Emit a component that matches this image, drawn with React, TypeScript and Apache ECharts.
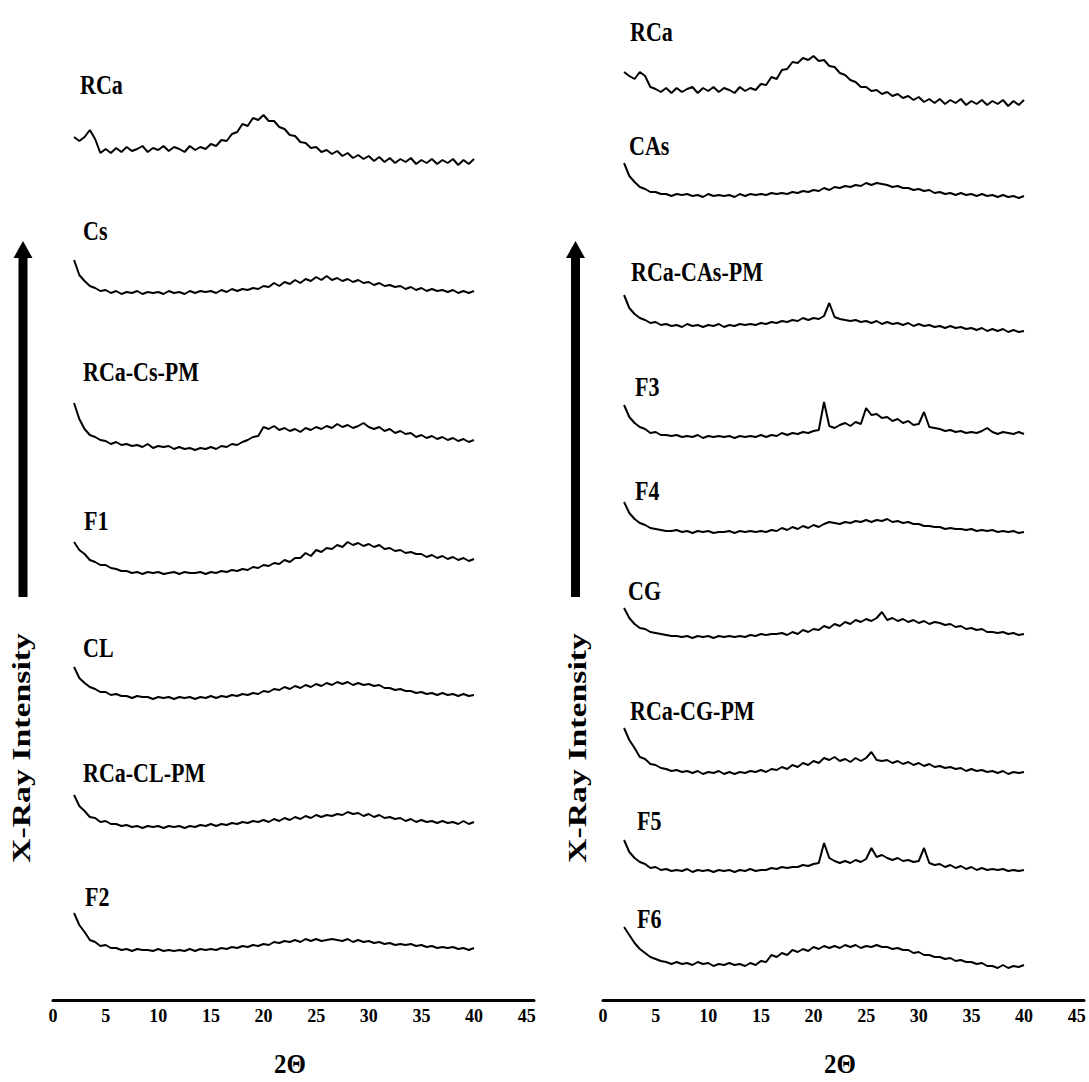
import React, { useEffect, useRef } from "react";
import * as echarts from "echarts";

// 2θ sampling positions (degrees)
const THETA = [
  2, 2.5, 3, 3.5, 4, 4.5, 5, 5.5, 6, 6.5,
  7, 7.5, 8, 8.5, 9, 9.5, 10, 10.5, 11, 11.5,
  12, 12.5, 13, 13.5, 14, 14.5, 15, 15.5, 16, 16.5,
  17, 17.5, 18, 18.5, 19, 19.5, 20, 20.5, 21, 21.5,
  22, 22.5, 23, 23.5, 24, 24.5, 25, 25.5, 26, 26.5,
  27, 27.5, 28, 28.5, 29, 29.5, 30, 30.5, 31, 31.5,
  32, 32.5, 33, 33.5, 34, 34.5, 35, 35.5, 36, 36.5,
  37, 37.5, 38, 38.5, 39, 39.5, 40,
];

const X_TICKS = [0, 5, 10, 15, 20, 25, 30, 35, 40, 45];

// ---------- Left panel (intensity above each trace's own baseline, a.u.) ----------
const L_RCa = [
  31, 27, 31, 38, 29, 15, 19, 15, 20, 16,
  21, 17, 19, 22, 16, 20, 18, 22, 17, 21,
  19, 16, 22, 18, 21, 19, 24, 22, 28, 27,
  34, 36, 44, 42, 50, 48, 53, 47, 47, 41,
  39, 33, 32, 26, 25, 20, 21, 16, 18, 14,
  17, 12, 15, 10, 13, 9, 12, 7, 11, 6,
  10, 5, 9, 6, 10, 4, 8, 5, 9, 4,
  8, 5, 9, 3, 8, 4, 9,
];
const L_Cs = [
  37, 22, 16, 11, 9, 6, 7, 4, 6, 3,
  5, 4, 6, 3, 5, 4, 5, 3, 6, 4,
  5, 3, 6, 4, 6, 5, 6, 4, 7, 5,
  8, 6, 8, 7, 9, 8, 11, 10, 14, 11,
  15, 13, 17, 14, 18, 16, 20, 17, 21, 17,
  19, 16, 18, 15, 17, 14, 15, 12, 14, 11,
  12, 10, 11, 8, 10, 7, 9, 6, 8, 6,
  7, 5, 7, 4, 6, 4, 6,
];
const L_RCa_Cs_PM = [
  49, 33, 23, 17, 15, 12, 11, 8, 10, 7,
  8, 6, 7, 5, 8, 4, 6, 5, 6, 3,
  5, 3, 4, 2, 4, 3, 5, 3, 6, 5,
  8, 7, 10, 12, 15, 16, 25, 23, 26, 22,
  24, 21, 23, 20, 24, 22, 25, 23, 26, 24,
  28, 25, 27, 24, 26, 29, 25, 23, 25, 21,
  23, 19, 21, 18, 19, 15, 17, 14, 16, 13,
  15, 12, 14, 11, 13, 10, 12,
];
const L_F1 = [
  33, 25, 21, 15, 13, 10, 10, 7, 6, 4,
  4, 2, 3, 1, 3, 2, 3, 1, 2, 3,
  1, 3, 2, 2, 3, 1, 3, 2, 4, 3,
  5, 4, 6, 5, 8, 7, 10, 9, 12, 11,
  15, 13, 17, 17, 22, 19, 25, 23, 27, 26,
  30, 28, 33, 30, 32, 29, 31, 28, 30, 26,
  27, 24, 25, 22, 23, 21, 21, 18, 20, 17,
  19, 16, 18, 15, 17, 14, 16,
];
const L_CL = [
  33, 22, 17, 13, 11, 8, 8, 5, 6, 4,
  4, 2, 4, 3, 3, 1, 3, 2, 3, 1,
  3, 2, 3, 1, 3, 2, 4, 2, 4, 3,
  5, 4, 6, 5, 7, 6, 9, 8, 11, 10,
  13, 11, 14, 12, 15, 13, 16, 14, 17, 15,
  18, 16, 18, 15, 17, 15, 16, 14, 15, 12,
  12, 10, 11, 9, 9, 7, 8, 6, 7, 5,
  7, 5, 6, 4, 6, 4, 5,
];
const L_RCa_CL_PM = [
  33, 22, 17, 11, 10, 6, 7, 4, 4, 2,
  3, 1, 2, 0, 2, 1, 2, 0, 2, 1,
  2, 0, 2, 1, 3, 2, 4, 2, 4, 3,
  5, 4, 6, 5, 7, 6, 8, 6, 9, 7,
  10, 8, 11, 9, 12, 10, 13, 11, 13, 12,
  14, 13, 16, 14, 15, 12, 14, 11, 13, 10,
  11, 9, 10, 7, 9, 6, 8, 6, 7, 5,
  7, 5, 6, 4, 7, 4, 6,
];
const L_F2 = [
  39, 27, 20, 12, 10, 6, 7, 4, 4, 2,
  3, 1, 3, 2, 2, 1, 3, 1, 2, 1,
  2, 1, 3, 1, 3, 2, 3, 2, 4, 3,
  5, 4, 6, 5, 7, 6, 8, 7, 10, 9,
  11, 10, 12, 10, 13, 11, 13, 11, 12, 13,
  12, 11, 13, 10, 12, 10, 11, 9, 10, 8,
  9, 7, 8, 7, 8, 6, 7, 5, 6, 4,
  5, 4, 5, 3, 4, 2, 4,
];

// ---------- Right panel ----------
const R_RCa = [
  34, 30, 27, 34, 30, 19, 17, 14, 18, 13,
  18, 14, 17, 19, 13, 18, 15, 19, 14, 18,
  16, 13, 19, 15, 18, 16, 22, 21, 29, 27,
  36, 37, 44, 43, 48, 46, 50, 45, 46, 40,
  39, 33, 31, 26, 24, 19, 19, 15, 16, 12,
  14, 10, 12, 8, 10, 6, 9, 4, 7, 3,
  7, 2, 6, 3, 7, 1, 5, 2, 6, 1,
  5, 2, 6, 0, 5, 1, 6,
];
const R_CAs = [
  35, 22, 16, 11, 9, 6, 6, 4, 4, 2,
  4, 3, 4, 2, 3, 1, 4, 2, 3, 2,
  3, 1, 4, 2, 4, 3, 4, 3, 5, 4,
  5, 4, 6, 5, 7, 6, 8, 7, 10, 8,
  11, 10, 12, 11, 13, 12, 15, 13, 15, 14,
  13, 11, 12, 10, 10, 8, 9, 7, 8, 5,
  6, 4, 5, 3, 5, 3, 4, 2, 4, 2,
  3, 1, 3, 1, 2, 0, 2,
];
const R_RCa_CAs_PM = [
  38, 25, 19, 15, 13, 10, 11, 8, 9, 7,
  8, 6, 9, 7, 8, 6, 8, 7, 9, 6,
  8, 7, 9, 8, 9, 8, 10, 9, 11, 10,
  12, 11, 13, 12, 15, 13, 15, 14, 17, 30,
  16, 14, 13, 12, 13, 11, 12, 10, 12, 9,
  11, 9, 10, 8, 10, 7, 9, 7, 8, 6,
  7, 5, 7, 5, 6, 4, 5, 3, 5, 2,
  4, 2, 4, 1, 3, 1, 2,
];
const R_F3 = [
  33, 21, 15, 11, 9, 5, 6, 3, 3, 2,
  3, 1, 2, 1, 3, 0, 2, 1, 2, 1,
  2, 0, 2, 1, 2, 1, 3, 1, 3, 2,
  5, 3, 5, 4, 6, 5, 7, 8, 36, 12,
  10, 13, 15, 12, 16, 14, 30, 23, 24, 20,
  21, 17, 19, 15, 17, 13, 14, 26, 11, 10,
  9, 7, 8, 6, 7, 5, 6, 5, 7, 10,
  6, 4, 6, 5, 4, 6, 4,
];
const R_F4 = [
  32, 21, 15, 11, 9, 6, 5, 4, 3, 3,
  4, 2, 3, 1, 3, 2, 3, 1, 2, 2,
  3, 1, 3, 2, 3, 2, 3, 2, 4, 3,
  6, 4, 7, 5, 8, 6, 9, 7, 10, 12,
  11, 10, 12, 11, 13, 12, 14, 12, 14, 13,
  15, 12, 13, 11, 12, 10, 10, 8, 8, 7,
  7, 5, 6, 5, 5, 4, 5, 3, 4, 3,
  4, 2, 3, 2, 3, 1, 2,
];
const R_CG = [
  30, 20, 14, 10, 9, 6, 5, 4, 3, 2,
  2, 1, 2, 0, 2, 1, 2, 0, 2, 1,
  2, 1, 2, 1, 3, 2, 4, 3, 4, 4,
  5, 3, 6, 4, 8, 6, 9, 8, 12, 10,
  14, 12, 16, 14, 18, 16, 19, 17, 20, 26,
  18, 20, 17, 19, 16, 18, 15, 17, 14, 16,
  15, 13, 14, 11, 12, 9, 10, 8, 9, 6,
  6, 5, 6, 4, 5, 3, 4,
];
const R_RCa_CG_PM = [
  47, 35, 27, 18, 16, 11, 10, 7, 6, 4,
  5, 3, 4, 2, 4, 1, 3, 2, 4, 1,
  3, 1, 3, 2, 4, 3, 5, 3, 6, 5,
  8, 6, 10, 8, 12, 10, 14, 12, 17, 15,
  18, 14, 16, 13, 17, 14, 17, 23, 15, 14,
  15, 12, 14, 11, 13, 10, 12, 9, 11, 8,
  9, 7, 8, 6, 7, 4, 6, 4, 5, 3,
  4, 2, 4, 1, 3, 2, 3,
];
const R_F5 = [
  33, 21, 15, 11, 9, 5, 6, 3, 4, 2,
  3, 2, 4, 1, 3, 2, 3, 1, 3, 2,
  3, 1, 3, 2, 4, 2, 3, 3, 5, 4,
  6, 5, 6, 6, 8, 7, 9, 10, 30, 15,
  12, 10, 12, 10, 13, 11, 14, 25, 16, 18,
  15, 13, 15, 12, 13, 11, 12, 25, 10, 8,
  9, 6, 8, 5, 7, 4, 6, 3, 5, 3,
  4, 3, 4, 2, 3, 2, 3,
];
const R_F6 = [
  41, 33, 25, 19, 15, 11, 9, 7, 6, 4,
  6, 4, 5, 3, 6, 4, 5, 2, 4, 3,
  5, 3, 4, 2, 5, 3, 7, 6, 13, 11,
  15, 13, 18, 16, 19, 17, 21, 19, 22, 20,
  22, 20, 23, 21, 23, 20, 22, 21, 23, 21,
  21, 19, 20, 18, 18, 15, 16, 13, 13, 11,
  11, 9, 10, 7, 8, 6, 6, 4, 5, 2,
  2, 0, 3, 0, 2, 1, 3,
];

const LEFT_NAMES = ["RCa", "Cs", "RCa-Cs-PM", "F1", "CL", "RCa-CL-PM", "F2"];
const LEFT_SERIES = [L_RCa, L_Cs, L_RCa_Cs_PM, L_F1, L_CL, L_RCa_CL_PM, L_F2];
const LEFT_OFFSETS = [832, 703, 548, 425, 300, 172, 48];

const RIGHT_NAMES = ["RCa", "CAs", "RCa-CAs-PM", "F3", "F4", "CG", "RCa-CG-PM", "F5", "F6"];
const RIGHT_SERIES = [R_RCa, R_CAs, R_RCa_CAs_PM, R_F3, R_F4, R_CG, R_RCa_CG_PM, R_F5, R_F6];
const RIGHT_OFFSETS = [894, 802, 667, 562, 466, 362, 225, 127, 32];

const FONT = '"Liberation Serif", "Times New Roman", serif';

// label layout (pixel positions, layout only)
const LEFT_LABEL_POS = [
  [80, 85], [83, 231], [83, 372], [84, 521], [83, 648], [83, 773], [85, 897],
];
const RIGHT_LABEL_POS = [
  [630, 32], [629, 146], [631, 272], [635, 387], [635, 491], [628, 591], [630, 711], [637, 821], [637, 919],
];

export default function App() {
  const ref = useRef<HTMLDivElement>(null);

  useEffect(() => {
    if (!ref.current) return;
    const chart = echarts.init(ref.current, undefined, { renderer: "svg" });

    const mkX = (gridIndex: number) => ({
      type: "value",
      gridIndex,
      min: 0,
      max: 45.7,
      interval: 5,
      axisLine: { show: true, lineStyle: { color: "#000", width: 3 } },
      axisTick: { show: false },
      splitLine: { show: false },
      axisLabel: {
        color: "#000",
        fontFamily: FONT,
        fontWeight: "bold",
        fontSize: 18,
        margin: 7,
        formatter: (v: number) => (X_TICKS.indexOf(v) >= 0 ? String(v) : ""),
      },
    });
    const mkY = (gridIndex: number) => ({
      type: "value",
      gridIndex,
      min: 0,
      max: 1000,
      show: false,
      splitLine: { show: false },
    });

    const series: any[] = [];
    LEFT_SERIES.forEach((vals, k) => {
      series.push({
        name: "L " + LEFT_NAMES[k],
        type: "line",
        xAxisIndex: 0,
        yAxisIndex: 0,
        showSymbol: false,
        silent: true,
        lineStyle: { color: "#000", width: 2 },
        data: THETA.map((t, i) => [t, LEFT_OFFSETS[k] + vals[i]]),
      });
    });
    RIGHT_SERIES.forEach((vals, k) => {
      series.push({
        name: "R " + RIGHT_NAMES[k],
        type: "line",
        xAxisIndex: 1,
        yAxisIndex: 1,
        showSymbol: false,
        silent: true,
        lineStyle: { color: "#000", width: 2 },
        data: THETA.map((t, i) => [t, RIGHT_OFFSETS[k] + vals[i]]),
      });
    });

    const labelText = (txt: string, x: number, y: number) => ({
      type: "text",
      x,
      y,
      scaleY: 1.25,
      silent: true,
      style: {
        text: txt,
        fill: "#000",
        font: `bold 22px ${FONT}`,
        align: "left",
        verticalAlign: "middle",
      },
    });

    const graphic: any[] = [];
    LEFT_NAMES.forEach((n, k) => graphic.push(labelText(n, LEFT_LABEL_POS[k][0], LEFT_LABEL_POS[k][1])));
    RIGHT_NAMES.forEach((n, k) => graphic.push(labelText(n, RIGHT_LABEL_POS[k][0], RIGHT_LABEL_POS[k][1])));

    const arrow = (cx: number) => [
      { type: "rect", silent: true, shape: { x: cx - 4.5, y: 254, width: 9, height: 343 }, style: { fill: "#000" } },
      {
        type: "polygon",
        silent: true,
        shape: { points: [[cx, 241], [cx - 9.5, 258], [cx + 9.5, 258]] },
        style: { fill: "#000" },
      },
    ];
    graphic.push(...arrow(23), ...arrow(575.5));

    const yTitle = (cx: number) => ({
      type: "text",
      x: cx,
      y: 748,
      rotation: Math.PI / 2,
      scaleX: 1.3,
      silent: true,
      style: {
        text: "X-Ray Intensity",
        fill: "#000",
        font: `bold 26px ${FONT}`,
        align: "center",
        verticalAlign: "middle",
      },
    });
    graphic.push(yTitle(21), yTitle(577));

    const xTitle = (cx: number) => ({
      type: "text",
      x: cx,
      y: 1064,
      scaleY: 1.1,
      silent: true,
      style: {
        text: "2Θ",
        fill: "#000",
        font: `bold 25px ${FONT}`,
        align: "center",
        verticalAlign: "middle",
      },
    });
    graphic.push(xTitle(290), xTitle(840));

    chart.setOption({
      animation: false,
      backgroundColor: "#fff",
      grid: [
        { left: 53, top: 0, width: 481, height: 1000 },
        { left: 603, top: 0, width: 481, height: 1000 },
      ],
      xAxis: [mkX(0), mkX(1)],
      yAxis: [mkY(0), mkY(1)],
      series,
      graphic,
    });

    return () => chart.dispose();
  }, []);

  return (
    <div
      ref={ref}
      style={{ position: "absolute", left: 0, top: 0, width: 1089, height: 1082, background: "#fff" }}
    />
  );
}
